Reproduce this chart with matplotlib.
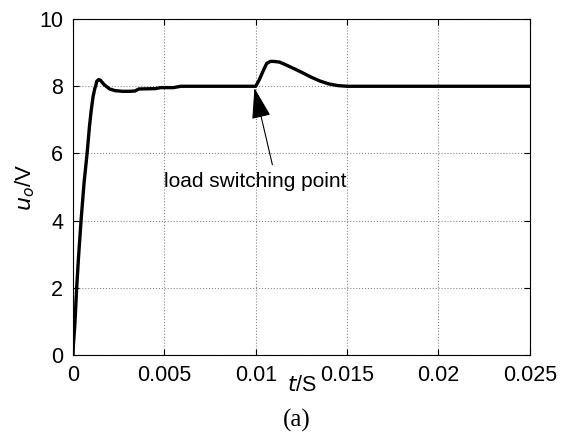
import matplotlib.pyplot as plt
import numpy as np

# output voltage response
t = [0, 0.00002, 0.0001, 0.0002, 0.0003, 0.00044, 0.0006, 0.00077, 0.0009, 0.001,
     0.0011, 0.0012, 0.00126, 0.0013, 0.0014, 0.0015, 0.0017, 0.002, 0.0023,
     0.0027, 0.0031, 0.0034, 0.0036, 0.0045, 0.0048, 0.0055, 0.0059, 0.008, 0.0098,
     0.01, 0.0102, 0.0104, 0.0106, 0.0108, 0.011, 0.0113, 0.0116, 0.012, 0.0125,
     0.013, 0.0135, 0.014, 0.0145, 0.015, 0.02, 0.025]
u = [0.0, 0.3, 0.9, 2.0, 2.9, 4.0, 5.1, 6.0, 6.8, 7.3,
     7.7, 7.95, 8.05, 8.15, 8.2, 8.18, 8.05, 7.92, 7.87,
     7.85, 7.85, 7.86, 7.92, 7.93, 7.96, 7.96, 8.0, 8.0, 8.0,
     8.0, 8.2, 8.45, 8.68, 8.74, 8.74, 8.72, 8.65, 8.55, 8.42,
     8.28, 8.16, 8.07, 8.02, 8.0, 8.0, 8.0]

xticks = [0, 0.005, 0.01, 0.015, 0.02, 0.025]
xticklabels = ["0", "0.005", "0.01", "0.015", "0.02", "0.025"]
yticks = [0, 2, 4, 6, 8, 10]

plt.rcParams['font.family'] = ['Liberation Sans', 'DejaVu Sans']

fig = plt.figure(figsize=(5.66, 4.34), dpi=100)
ax = fig.add_axes([0.129, 0.182, 0.807, 0.774])

ax.plot(t, u, color='black', lw=2.4)
ax.set_xlim(0, 0.025)
ax.set_ylim(0, 10)
ax.set_xticks(xticks)
ax.set_xticklabels(xticklabels)
ax.set_yticks(yticks)
ax.tick_params(direction='in', top=True, right=True, labelsize=15.5, length=4, pad=7)
ax.grid(True, linestyle=':', color='#888888', lw=0.8)

ax.set_xlabel(r'$\mathit{t}$/S', fontsize=15.5, labelpad=-8)
ax.set_ylabel(r'$\mathit{u}_{o}$/V', fontsize=16, labelpad=2)

ax.annotate('load switching point', xy=(0.00993, 7.95), xytext=(0.0100, 5.18),
            fontsize=15, ha='center', va='center',
            arrowprops=dict(arrowstyle='-|>,head_length=1.3,head_width=0.4',
                            color='black', lw=0.8, shrinkB=0, shrinkA=3,
                            relpos=(0.6, 1.0)))

fig.text(0.525, 0.016, '(a)', fontsize=18, family='Liberation Serif', ha='center')

fig.savefig('out.png', dpi=100)
